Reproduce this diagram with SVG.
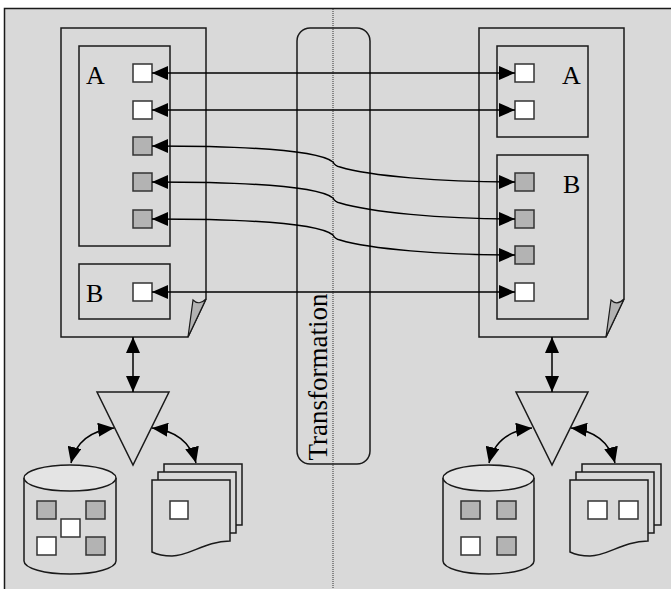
<svg xmlns="http://www.w3.org/2000/svg" width="671" height="589" viewBox="0 0 671 589">
<style>
.sh{fill:#d9d9d9;stroke:#1a1a1a;stroke-width:1.5}
.bx{fill:none;stroke:#1a1a1a;stroke-width:1.5}
.w{fill:#ffffff;stroke:#333;stroke-width:1.5}
.g{fill:#b3b3b3;stroke:#333;stroke-width:1.5}
.fold{fill:#b3b3b3;stroke:#1a1a1a;stroke-width:1.2}
.top{fill:#e4e4e4;stroke:#1a1a1a;stroke-width:1.5}
.lbl{font-family:"Liberation Serif","Times New Roman",serif;font-size:26px;fill:#000}
.cn{fill:none;stroke:#000;stroke-width:1.5;marker-start:url(#arr);marker-end:url(#arr)}
</style>
<defs>
<marker id="arr" viewBox="0 0 16 14" markerWidth="16" markerHeight="14" refX="16" refY="7" orient="auto-start-reverse" markerUnits="userSpaceOnUse">
<path d="M0,0 L16,7 L0,14 Z" fill="#000"/>
</marker>
</defs>
<rect x="0" y="0" width="671" height="589" fill="#ffffff"/>
<rect x="4.5" y="8.5" width="700" height="600" fill="#d9d9d9" stroke="#1a1a1a" stroke-width="1.5"/>
<line x1="333" y1="9" x2="333" y2="589" stroke="#333" stroke-width="1" stroke-dasharray="1,1"/>
<g id="transformation">
<rect x="297" y="28" width="73" height="436" rx="13" class="bx"/>
<text class="lbl" style="font-size:27px" text-anchor="middle" transform="translate(327,377) rotate(-90)">Transformation</text>
</g>
<g id="left-doc">
<path d="M61,28 H206 V299 L188,337 H61 Z" class="sh"/>
<path d="M188,337 L193,300 Q199,306 206,299 Z" class="fold"/>
</g>
<g id="left-A">
<rect x="79" y="46" width="91" height="200" class="bx"/>
<text class="lbl" x="86" y="84">A</text>
<rect x="133" y="64" width="19" height="18" class="w"/>
<rect x="133" y="101" width="19" height="18" class="w"/>
<rect x="133" y="137" width="19" height="18" class="g"/>
<rect x="133" y="173" width="19" height="18" class="g"/>
<rect x="133" y="210" width="19" height="18" class="g"/>
</g>
<g id="left-B">
<rect x="79" y="264" width="91" height="55" class="bx"/>
<text class="lbl" x="86" y="302">B</text>
<rect x="133" y="283" width="19" height="18" class="w"/>
</g>
<g id="right-doc">
<path d="M479,28 H624 V299 L606,337 H479 Z" class="sh"/>
<path d="M606,337 L611,300 Q617,306 624,299 Z" class="fold"/>
</g>
<g id="right-A">
<rect x="497" y="46" width="91" height="91" class="bx"/>
<text class="lbl" x="562" y="84">A</text>
<rect x="515" y="64" width="19" height="18" class="w"/>
<rect x="515" y="101" width="19" height="18" class="w"/>
</g>
<g id="right-B">
<rect x="497" y="155" width="91" height="164" class="bx"/>
<text class="lbl" x="563" y="193">B</text>
<rect x="515" y="173" width="19" height="18" class="g"/>
<rect x="515" y="210" width="19" height="18" class="g"/>
<rect x="515" y="246" width="19" height="18" class="g"/>
<rect x="515" y="283" width="19" height="18" class="w"/>
</g>
<g id="left-tri"><path d="M97,392 H169 L133,465 Z" class="sh"/></g>
<g id="right-tri"><path d="M516,392 H588 L552,465 Z" class="sh"/></g>
<g id="left-db">
<path d="M24,478 V561 A46,13 0 0 0 116,561 V478" class="sh"/>
<ellipse cx="70" cy="478" rx="46" ry="13" class="top"/>
<rect x="37" y="501" width="19" height="18" class="g"/>
<rect x="86" y="501" width="19" height="18" class="g"/>
<rect x="61" y="519" width="19" height="18" class="w"/>
<rect x="37" y="537" width="19" height="18" class="w"/>
<rect x="86" y="537" width="19" height="18" class="g"/>
</g>
<g id="right-db">
<path d="M443,478 V561 A45.5,13 0 0 0 534,561 V478" class="sh"/>
<ellipse cx="488.5" cy="478" rx="45.5" ry="13" class="top"/>
<rect x="461" y="501" width="19" height="18" class="g"/>
<rect x="497" y="501" width="19" height="18" class="g"/>
<rect x="461" y="537" width="19" height="18" class="w"/>
<rect x="497" y="537" width="19" height="18" class="g"/>
</g>
<g id="left-docs">
<rect x="164" y="464" width="78" height="61" class="sh"/>
<rect x="158" y="472" width="78" height="61" class="sh"/>
<path d="M152,480 H230 V541 C205,541 190,556 172,556 C162,556 156,554 152,552 Z" class="sh"/>
<rect x="170" y="501" width="18" height="18" class="w"/>
</g>
<g id="right-docs">
<rect x="582" y="464" width="79" height="61" class="sh"/>
<rect x="576" y="472" width="78" height="61" class="sh"/>
<path d="M570,480 H648 V541 C623,541 608,556 590,556 C580,556 574,554 570,552 Z" class="sh"/>
<rect x="588" y="501" width="19" height="18" class="w"/>
<rect x="619" y="501" width="19" height="18" class="w"/>
</g>
<g id="connectors">
<path class="cn" d="M152,73 H515"/>
<path class="cn" d="M152,110 H515"/>
<path class="cn" d="M152,146 C260,146 320,152 333,162 Q335,166 340,167 C370,176 440,182 515,182"/>
<path class="cn" d="M152,182 C260,182 320,188 333,198 Q335,202 340,203 C370,212 440,219 515,219"/>
<path class="cn" d="M152,219 C260,219 320,225 333,235 Q335,239 340,240 C370,249 440,255 515,255"/>
<path class="cn" d="M152,292 H515"/>
<path class="cn" d="M133,337 V392"/>
<path class="cn" d="M552,337 V392"/>
<path class="cn" d="M71,463 Q78,432 114,428"/>
<path class="cn" d="M152,428 Q188,432 196,463"/>
<path class="cn" d="M489,463 Q496,432 532,428"/>
<path class="cn" d="M571,428 Q607,432 615,463"/>
</g>
</svg>
